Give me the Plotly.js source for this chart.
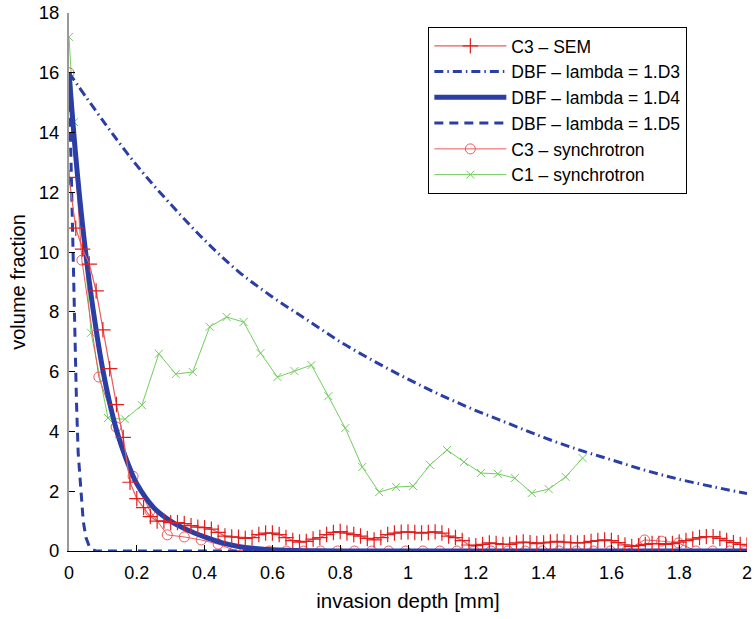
<!DOCTYPE html>
<html>
<head>
<meta charset="utf-8">
<script src="https://cdn.plot.ly/plotly-3.0.1.min.js"></script>
<style>html,body{margin:0;padding:0;background:#fff;}#chart{width:754px;height:619px;}</style>
</head>
<body>
<div id="chart"></div>
<script>
// ---- data ----
const semX = [0,0.02,0.04,0.06,0.08,0.10,0.12,0.14,0.16,0.18,
  0.20,0.22,0.24,0.26,0.28,0.30,0.32,0.34,0.36,0.38,
  0.40,0.42,0.44,0.46,0.48,0.50,0.52,0.54,0.56,0.58,
  0.60,0.62,0.64,0.66,0.68,0.70,0.72,0.74,0.76,0.78,
  0.80,0.82,0.84,0.86,0.88,0.90,0.92,0.94,0.96,0.98,
  1.00,1.02,1.04,1.06,1.08,1.10,1.12,1.14,1.16,1.18,
  1.20,1.22,1.24,1.26,1.28,1.30,1.32,1.34,1.36,1.38,
  1.40,1.42,1.44,1.46,1.48,1.50,1.52,1.54,1.56,1.58,
  1.60,1.62,1.64,1.66,1.68,1.70,1.72,1.74,1.76,1.78,
  1.80,1.82,1.84,1.86,1.88,1.90,1.92,1.94,1.96,1.98,2.00];
const semY = [12.5,10.8,10.1,9.6,8.7,7.4,6.1,4.9,3.8,2.3,
  1.75,1.45,1.15,1.0,1.0,0.95,0.95,0.92,0.85,0.8,
  0.78,0.73,0.62,0.5,0.47,0.46,0.42,0.45,0.55,0.6,
  0.6,0.55,0.45,0.35,0.3,0.32,0.4,0.45,0.55,0.62,
  0.65,0.6,0.55,0.5,0.42,0.37,0.45,0.55,0.6,0.63,
  0.64,0.62,0.6,0.62,0.64,0.6,0.5,0.45,0.35,0.2,
  0.18,0.22,0.27,0.25,0.22,0.22,0.27,0.3,0.28,0.25,
  0.27,0.3,0.32,0.3,0.28,0.27,0.28,0.32,0.35,0.37,
  0.35,0.28,0.2,0.15,0.18,0.22,0.25,0.25,0.22,0.25,
  0.3,0.35,0.4,0.45,0.48,0.48,0.42,0.35,0.28,0.22,0.2];

const d3X = [0,0.1,0.2,0.3,0.4,0.5,0.6,0.7,0.8,0.9,1.0,1.1,1.2,1.3,1.4,1.5,1.6,1.7,1.8,1.9,2.0];
const d3Y = [16.0,14.4,12.9,11.6,10.4,9.35,8.5,7.75,7.0,6.35,5.75,5.2,4.7,4.25,3.8,3.4,3.05,2.7,2.4,2.15,1.92];

const d4X = [0,0.02,0.04,0.06,0.08,0.1,0.12,0.14,0.16,0.18,0.2,0.25,0.3,0.35,0.4,0.45,0.5,0.55,0.6,0.7,0.8,1.0,1.2,1.4,1.6,1.8,2.0];
const d4Y = [16,13.2,10.9,9.0,7.4,6.05,4.95,4.05,3.35,2.75,2.25,1.45,1.0,0.7,0.47,0.28,0.15,0.08,0.04,0.01,0,0,0,0,0,0,0];

const d5X = [0,0.004,0.008,0.013,0.018,0.022,0.027,0.035,0.042,0.05,0.06,0.07,0.08,0.1,0.5,1.0,1.5,2.0];
const d5Y = [16,14,11.5,8.6,6.5,5.0,3.3,2.0,1.0,0.45,0.15,0.04,0,0,0,0,0,0];

const c3sX = [0,0.038,0.088,0.139,0.189,0.239,0.29,0.34,0.39,0.44,0.49,
  0.541,0.591,0.641,0.692,0.742,0.792,0.842,0.893,0.943,0.993,
  1.044,1.094,1.144,1.195,1.245,1.295,1.346,1.396,1.446,1.497,
  1.547,1.597,1.648,1.698,1.748,1.798,1.849,1.899,1.949,1.995];
const c3sY = [16.0,9.73,5.82,4.15,2.5,1.34,0.54,0.47,0.37,0.23,0.02,
  0,0,0,0,0,0,0,0,0,0,
  0,0,0,0,0,0,0,0,0,0,
  0,0,0.05,0.37,0.33,0.27,0,0,0,0];

const c1X = [0,0.015,0.065,0.115,0.165,0.215,0.265,0.315,0.365,0.415,0.465,
  0.515,0.565,0.615,0.665,0.715,0.765,0.815,0.865,0.915,0.965,
  1.015,1.065,1.115,1.165,1.215,1.265,1.315,1.365,1.415,1.465,1.515];
const c1Y = [17.2,14.35,7.3,4.45,4.41,4.88,6.6,5.92,5.99,7.5,7.83,
  7.66,6.62,5.82,6.02,6.22,5.18,4.11,2.81,1.97,2.14,
  2.17,2.88,3.38,2.98,2.61,2.58,2.44,1.94,2.07,2.48,3.11];

const names = ['C3 \u2013 SEM','DBF \u2013 lambda = 1.D3','DBF \u2013 lambda = 1.D4','DBF \u2013 lambda = 1.D5','C3 \u2013 synchrotron','C1 \u2013 synchrotron'];
const xTicks = [0,0.2,0.4,0.6,0.8,1,1.2,1.4,1.6,1.8,2];
const yTicks = [0,2,4,6,8,10,12,14,16,18];

const BLUE = 'rgb(42,62,165)';
const RED_L = 'rgb(236,90,90)';
const GREEN = 'rgb(115,205,95)';
// drawn in reverse so the earlier legend entries sit on top; legend order reversed back
const traces = [
  {x: c1X, y: c1Y, name: names[5], mode: 'lines+markers', type: 'scatter',
   line: {color: GREEN, width: 1},
   marker: {symbol: 'x-thin', size: 8, line: {color: GREEN, width: 1}}},
  {x: c3sX, y: c3sY, name: names[4], mode: 'lines+markers', type: 'scatter',
   line: {color: RED_L, width: 1},
   marker: {symbol: 'circle-open', size: 10, color: RED_L, line: {width: 1}}},
  {x: d5X, y: d5Y, name: names[3], mode: 'lines', type: 'scatter',
   line: {color: BLUE, width: 3, dash: '9px,6px'}},
  {x: d4X, y: d4Y, name: names[2], mode: 'lines', type: 'scatter',
   line: {color: BLUE, width: 5, shape: 'spline'}},
  {x: d3X, y: d3Y, name: names[1], mode: 'lines', type: 'scatter',
   line: {color: BLUE, width: 3, dash: '9px,4px,1.5px,4px', shape: 'spline'}},
  {x: semX, y: semY, name: names[0], mode: 'lines+markers', type: 'scatter',
   line: {color: RED_L, width: 1.2},
   marker: {symbol: 'cross-thin', size: 11, line: {color: 'rgb(225,30,30)', width: 1.2}}}
];

const FONT = 'Liberation Sans, Arial, Helvetica, sans-serif';
const layout = {
  width: 754, height: 619,
  margin: {l: 69, r: 7, t: 13, b: 68},
  paper_bgcolor: '#fff', plot_bgcolor: '#fff',
  font: {family: FONT, size: 18, color: '#000'},
  showlegend: true,
  legend: {x: 0.53, y: 0.974, xanchor: 'left', yanchor: 'top', traceorder: 'reversed',
    bordercolor: '#000', borderwidth: 1, bgcolor: '#fff',
    font: {family: FONT, size: 17.5, color: '#000'}, itemwidth: 72, tracegroupgap: 0},
  xaxis: {range: [0, 2], tickvals: xTicks, ticktext: xTicks.map(String),
    showgrid: false, zeroline: false, showline: true, linecolor: '#000', linewidth: 1,
    ticks: 'inside', ticklen: 6, tickcolor: '#000', ticklabelstandoff: 5,
    tickfont: {family: FONT, size: 18},
    title: {text: 'invasion depth [mm]', font: {family: FONT, size: 20.5}, standoff: 12}},
  yaxis: {range: [0, 18], tickvals: yTicks, ticktext: yTicks.map(String),
    showgrid: false, zeroline: false, showline: true, linecolor: '#999', linewidth: 2,
    ticks: 'inside', ticklen: 6, tickcolor: '#000', ticklabelstandoff: 4,
    tickfont: {family: FONT, size: 18.5},
    title: {text: 'volume fraction', font: {family: FONT, size: 20}, standoff: 8}}
};

Plotly.newPlot('chart', traces, layout, {displayModeBar: false, staticPlot: true});
</script>
</body>
</html>
